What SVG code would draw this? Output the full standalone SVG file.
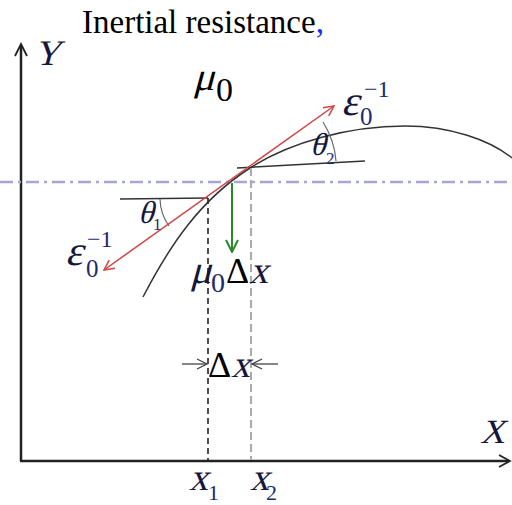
<svg xmlns="http://www.w3.org/2000/svg" width="512" height="505" viewBox="0 0 512 505">
<style>
.t{font-family:"Liberation Serif","Times New Roman",serif;fill:#000}
.m{font-family:"Liberation Serif","Times New Roman",serif;fill:#16163c}
.d{font-family:"Liberation Serif","Times New Roman",serif;fill:#1c2a70}
.ax{stroke:#222;stroke-width:2.5;fill:none}
.aw{stroke:#222;stroke-width:1.8;fill:none}
</style>
<defs>
<marker id="ar" viewBox="0 0 12 12" refX="11" refY="6" markerWidth="12" markerHeight="12" markerUnits="userSpaceOnUse" orient="auto-start-reverse">
<path d="M1,1 L11,6 L1,11" fill="none" stroke="#d04545" stroke-width="1.5"/>
</marker>
<marker id="ag" viewBox="0 0 14 14" refX="13" refY="7" markerWidth="14" markerHeight="14" markerUnits="userSpaceOnUse" orient="auto">
<path d="M1,1 L13,7 L1,13" fill="none" stroke="#2a8a2a" stroke-width="2"/>
</marker>
<marker id="ak" viewBox="0 0 12 12" refX="11" refY="6" markerWidth="12" markerHeight="12" markerUnits="userSpaceOnUse" orient="auto">
<path d="M1,1 L11,6 L1,11" fill="none" stroke="#444" stroke-width="1.3"/>
</marker>
</defs>

<g id="title">
<text class="t" x="82" y="33" font-size="33">Inertial resistance<tspan fill="#1030ff">,</tspan></text>
</g>

<g id="axes">
<line class="ax" x1="21" y1="461" x2="21" y2="45"/>
<path class="aw" d="M15,56 L21,44 L27,56"/>
<line class="ax" x1="20" y1="461" x2="509" y2="461"/>
<path class="aw" d="M499,455 L510,461 L499,467"/>
<text class="m" transform="translate(34,65) skewX(-15)" font-size="36">Y</text>
<text class="m" transform="translate(480,443) skewX(-15)" font-size="34">X</text>
</g>

<g id="refline">
<line x1="0" y1="182" x2="512" y2="182" stroke="#a6a6d6" stroke-width="2.5" stroke-dasharray="13 5 3 5"/>
</g>

<g id="curve">
<path d="M143,297 C170,245 200,200 250,168 C290,142 350,126 405,126 C450,126 490,140 512,158" fill="none" stroke="#333" stroke-width="1.5"/>
<line x1="120" y1="199" x2="208" y2="198" stroke="#333" stroke-width="1.5"/>
<line x1="237" y1="168" x2="365" y2="161" stroke="#333" stroke-width="1.5"/>
<path d="M160,199 A48,48 0 0 0 169,226" fill="none" stroke="#666" stroke-width="1.2"/>
<path d="M323,122 A86,86 0 0 1 336,161" fill="none" stroke="#666" stroke-width="1.2"/>
</g>

<g id="connectors">
<line x1="104" y1="270" x2="334" y2="106" stroke="#d04545" stroke-width="1.5" marker-start="url(#ar)" marker-end="url(#ar)"/>
<line x1="232" y1="183" x2="232" y2="252" stroke="#2a8a2a" stroke-width="2" marker-end="url(#ag)"/>
<line x1="208" y1="198" x2="208" y2="460" stroke="#222" stroke-width="1.6" stroke-dasharray="6 4"/>
<line x1="251" y1="168" x2="251" y2="460" stroke="#aaa" stroke-width="2" stroke-dasharray="8 4"/>
<line x1="182" y1="364" x2="207" y2="364" stroke="#444" stroke-width="1.3" marker-end="url(#ak)"/>
<line x1="278" y1="364" x2="252" y2="364" stroke="#444" stroke-width="1.3" marker-end="url(#ak)"/>
</g>

<g id="mu0">
<text class="t" transform="translate(193,90) skewX(-15)" font-size="40">μ</text>
<text class="t" x="216" y="101" font-size="34">0</text>
</g>

<g id="eps-up">
<text class="m" transform="translate(341,115) skewX(-15)" font-size="42">ε</text>
<text class="d" x="360" y="125" font-size="25">0</text>
<text class="d" x="364" y="97" font-size="24">−1</text>
</g>

<g id="eps-low">
<text class="m" transform="translate(65,265) skewX(-15)" font-size="42">ε</text>
<text class="d" x="86" y="277" font-size="25">0</text>
<text class="d" x="87" y="247" font-size="24">−1</text>
</g>

<g id="theta1">
<text class="m" transform="translate(138,223) skewX(-15)" font-size="32">θ</text>
<text class="d" x="153" y="230" font-size="17" fill="#6a2a8a">1</text>
</g>

<g id="theta2">
<text class="m" transform="translate(310,155) skewX(-15)" font-size="32">θ</text>
<text class="d" x="326" y="164" font-size="17">2</text>
</g>

<g id="force">
<text class="m" transform="translate(190,283) skewX(-15)" font-size="40">μ</text>
<text class="d" x="211" y="292" font-size="28">0</text>
<text class="t" x="226" y="283" font-size="36">Δ</text>
<text class="m" transform="translate(249,283) skewX(-15)" font-size="38">x</text>
</g>

<g id="dx">
<text class="t" x="208" y="377" font-size="36">Δ</text>
<text class="m" transform="translate(231,377) skewX(-15)" font-size="38">x</text>
</g>

<g id="x1">
<text class="m" transform="translate(189,490) skewX(-15)" font-size="38">x</text>
<text class="d" x="208" y="500" font-size="22">1</text>
</g>

<g id="x2">
<text class="m" transform="translate(250,490) skewX(-15)" font-size="38">x</text>
<text class="d" x="266" y="500" font-size="22">2</text>
</g>
</svg>
